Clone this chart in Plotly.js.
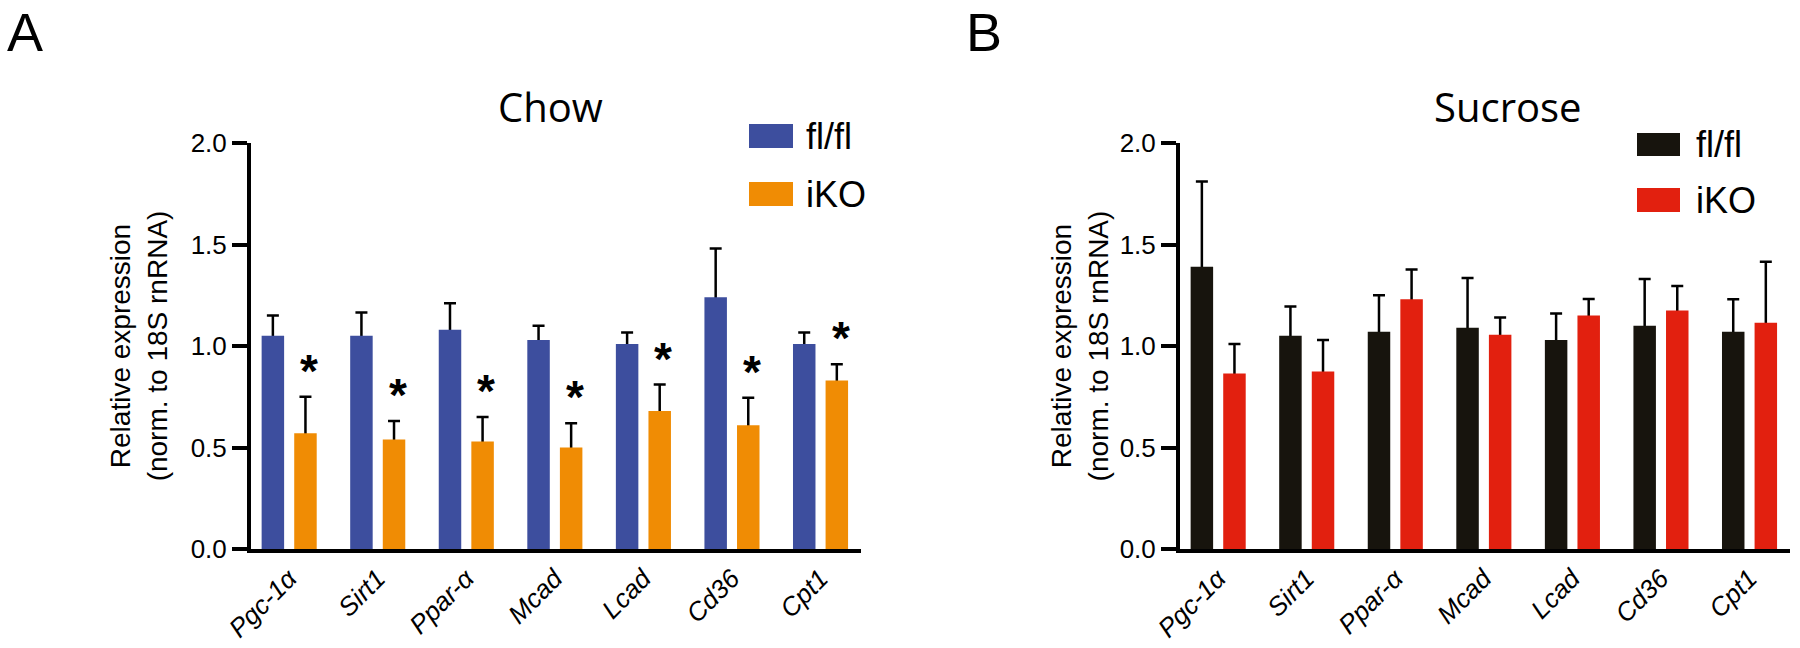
<!DOCTYPE html>
<html>
<head>
<meta charset="utf-8">
<script src="https://cdn.plot.ly/plotly-3.0.1.min.js"></script>
<style>
html,body{margin:0;padding:0;background:#fff;}
#chart{width:1800px;height:648px;}
</style>
</head>
<body>
<div id="chart"></div>
<script>
// ---- data ----
const categories = ['Pgc-1α', 'Sirt1', 'Ppar-α', 'Mcad', 'Lcad', 'Cd36', 'Cpt1'];
const seriesNames = ['fl/fl', 'iKO'];

const chowFl     = [1.05, 1.05, 1.08, 1.03, 1.01, 1.24, 1.01];
const chowFlErr  = [0.10, 0.115, 0.13, 0.07, 0.056, 0.24, 0.056];
const chowKo     = [0.57, 0.54, 0.53, 0.50, 0.68, 0.61, 0.83];
const chowKoErr  = [0.18, 0.09, 0.12, 0.12, 0.13, 0.135, 0.08];
const chowSig    = ['*', '*', '*', '*', '*', '*', '*'];

const sucFl      = [1.39, 1.05, 1.07, 1.09, 1.03, 1.10, 1.07];
const sucFlErr   = [0.42, 0.145, 0.18, 0.245, 0.13, 0.23, 0.16];
const sucKo      = [0.865, 0.875, 1.23, 1.055, 1.15, 1.175, 1.115];
const sucKoErr   = [0.145, 0.155, 0.147, 0.085, 0.082, 0.12, 0.30];

const yTickVals  = [0, 0.5, 1.0, 1.5, 2.0];
const yTickText  = ['0.0', '0.5', '1.0', '1.5', '2.0'];

const panelTitles = ['Chow', 'Sucrose'];
const panelLetters = ['A', 'B'];
const chowColors = ['#3d4e9e', '#f08c04'];
const sucColors  = ['#17140d', '#e2200f'];
const yTitle = 'Relative expression<br>(norm. to 18S rnRNA)';

// ---- layout helpers ----
const W = 1800, H = 648;
const px = x => x / W;
const py = y => 1 - y / H;
const SANS = 'Liberation Sans, Arial, sans-serif';

function carrier(x, y, err, group, xa, ya) {
  return {
    type: 'bar', x: x, y: y, xaxis: xa, yaxis: ya, offsetgroup: group,
    marker: {color: 'rgba(0,0,0,0)', line: {width: 0}},
    error_y: {type: 'data', symmetric: false, array: err, arrayminus: y,
              color: '#000', thickness: 2.5, width: 6},
    showlegend: false, hoverinfo: 'skip'
  };
}
function bars(x, y, color, group, name, xa, ya) {
  return {
    type: 'bar', x: x, y: y, xaxis: xa, yaxis: ya, offsetgroup: group, name: name,
    marker: {color: color, line: {width: 0}}, showlegend: false
  };
}

const data = [
  carrier(categories, chowFl, chowFlErr, 'a', 'x', 'y'),
  carrier(categories, chowKo, chowKoErr, 'b', 'x', 'y'),
  bars(categories, chowFl, chowColors[0], 'a', seriesNames[0], 'x', 'y'),
  bars(categories, chowKo, chowColors[1], 'b', seriesNames[1], 'x', 'y'),
  carrier(categories, sucFl, sucFlErr, 'a', 'x2', 'y2'),
  carrier(categories, sucKo, sucKoErr, 'b', 'x2', 'y2'),
  bars(categories, sucFl, sucColors[0], 'a', seriesNames[0], 'x2', 'y2'),
  bars(categories, sucKo, sucColors[1], 'b', seriesNames[1], 'x2', 'y2')
];

const tickFont = {family: SANS, size: 26, color: '#000'};
const catFont = {family: SANS, size: 26, color: '#000', style: 'italic'};
const titleFont = {family: SANS, size: 28, color: '#000'};

function xAxis(domain, anchor) {
  return {
    domain: domain, anchor: anchor, type: 'category',
    range: [-0.431, 6.457], showline: true, linewidth: 4, linecolor: '#000',
    ticks: '', showgrid: false, zeroline: false, tickangle: -45,
    tickfont: catFont, fixedrange: true
  };
}
function yAxis(domain, anchor, standoff) {
  return {
    domain: domain, anchor: anchor, range: [0, 2],
    tickvals: yTickVals, ticktext: yTickText,
    showline: true, linewidth: 4, linecolor: '#000',
    ticks: 'outside', ticklen: 15, tickwidth: 4, tickcolor: '#000',
    showgrid: false, zeroline: false, tickfont: tickFont,
    title: {text: yTitle, font: titleFont, standoff: standoff},
    fixedrange: true
  };
}

const yDom = [py(549), py(143)];

const annotations = [];
// significance stars on iKO bars (panel A)
categories.forEach((c, i) => {
  if (chowSig[i]) {
    annotations.push({
      xref: 'x', yref: 'y', x: c, y: chowKo[i] + chowKoErr[i],
      text: chowSig[i], showarrow: false, xanchor: 'center', yanchor: 'bottom',
      xshift: 20, yshift: -2,
      font: {family: SANS, size: 46, color: '#000', weight: 'bold'}
    });
  }
});
// panel titles & letters
const titleX = [550, 1508];
const letterX = [25, 984];
panelTitles.forEach((t, i) => {
  annotations.push({xref: 'paper', yref: 'paper', x: px(titleX[i]), y: py(106),
    text: t, showarrow: false, xanchor: 'center', yanchor: 'middle',
    font: {family: 'Open Sans, Noto Sans, sans-serif', size: 40, color: '#000'}});
  annotations.push({xref: 'paper', yref: 'paper', x: px(letterX[i]), y: 1,
    text: panelLetters[i], showarrow: false, xanchor: 'center', yanchor: 'top',
    font: {family: SANS, size: 54, color: '#000'}});
});

// custom legends (swatches + labels)
const shapes = [];
const legendCfg = [
  {colors: chowColors, x0: 749, x1: 793, ys: [[124, 148], [182, 206]], tx: 804},
  {colors: sucColors, x0: 1637, x1: 1680, ys: [[133, 156], [188, 212]], tx: 1694}
];
legendCfg.forEach(cfg => {
  cfg.ys.forEach((yy, k) => {
    shapes.push({type: 'rect', xref: 'paper', yref: 'paper',
      x0: px(cfg.x0), x1: px(cfg.x1), y0: py(yy[1]), y1: py(yy[0]),
      fillcolor: cfg.colors[k], line: {width: 0}});
    annotations.push({xref: 'paper', yref: 'paper', x: px(cfg.tx), y: py((yy[0] + yy[1]) / 2),
      text: seriesNames[k], showarrow: false, xanchor: 'left', yanchor: 'middle',
      font: {family: SANS, size: 36, color: '#000'}});
  });
});

const layout = {
  width: W, height: H,
  margin: {l: 0, r: 0, t: 0, b: 0},
  paper_bgcolor: '#fff', plot_bgcolor: '#fff',
  barmode: 'group', bargap: 0.264, bargroupgap: 0.31,
  showlegend: false,
  xaxis: xAxis([px(251), px(861)], 'y'),
  yaxis: yAxis(yDom, 'x', 16),
  xaxis2: xAxis([px(1180), px(1790)], 'y2'),
  yaxis2: yAxis(yDom, 'x2', 4),
  annotations: annotations,
  shapes: shapes
};

Plotly.newPlot('chart', data, layout, {displayModeBar: false, staticPlot: true});
</script>
</body>
</html>
